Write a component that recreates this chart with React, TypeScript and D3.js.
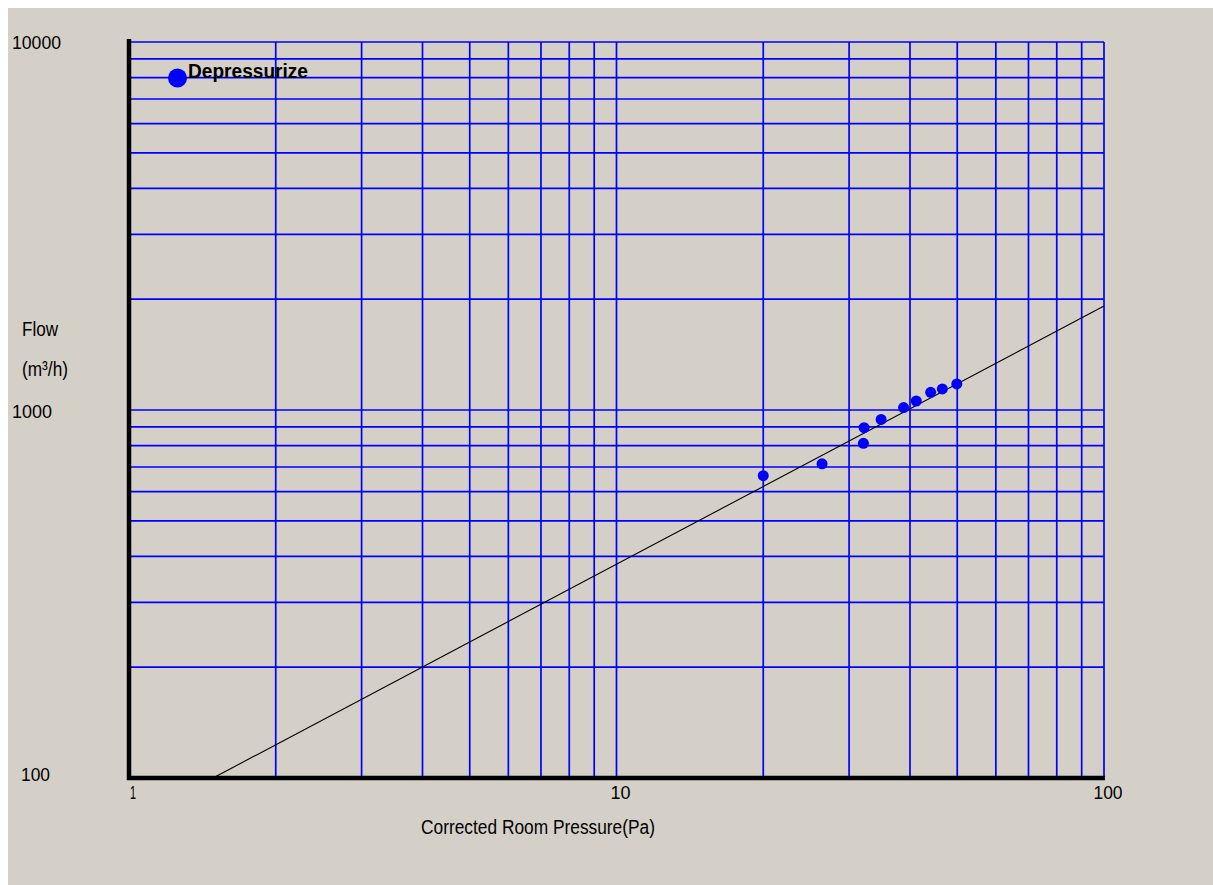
import React from "react";
import * as d3 from "d3";

// ---- data ----
const pressure = [20.0, 26.4, 32.1, 32.2, 34.9, 38.8, 41.2, 44.1, 46.6, 49.9];
const flow = [663, 714, 812, 895, 943, 1015, 1058, 1117, 1141, 1177];
const fitPressure = [1.487, 100];
const fitFlow = [100, 1917];
const xTickValues = [1, 10, 100];
const xTickLabels = ["1", "10", "100"];
const yTickValues = [100, 1000, 10000];
const yTickLabels = ["100", "1000", "10000"];
const seriesName = "Depressurize";
const xTitle = "Corrected Room Pressure(Pa)";
const yTitle1 = "Flow";
const yTitle2 = "(m³/h)";

const W = 1205;
const H = 877;
const BG = "#d4d0c8";
const GRID = "#0000ff";
const POINT = "#0000ff";
const FONT = "'Liberation Sans Narrow', 'Liberation Sans', Arial, sans-serif";

export default function App() {
  const x = d3.scaleLog().domain([1, 100]).range([129, 1104]);
  const y = d3.scaleLog().domain([100, 10000]).range([778, 42]);

  const xGrid: number[] = [];
  for (let d = 1; d <= 10; d *= 10) for (let k = 2; k <= 10; k++) xGrid.push(k * d);
  const yGrid: number[] = [];
  for (let d = 100; d <= 1000; d *= 10) for (let k = 2; k <= 10; k++) yGrid.push(k * d);

  const line = d3
    .line<number>()
    .x((_, i) => x(fitPressure[i]))
    .y((_, i) => y(fitFlow[i]));

  const yLabelX = [21, 12, 12];
  const yLabelW = [29, 40, 49];
  const yLabelDy = [3, 8, 7];
  const xLabelW = [6, 20, 29];
  const [x0, x1] = x.range();
  const [yb, yt] = y.range();

  return (
    <svg
      width={W}
      height={H}
      style={{ position: "absolute", left: 8, top: 8, display: "block" }}
    >
      <rect x={0} y={0} width={W} height={H} fill={BG} />
      <g transform="translate(-8,-8)" fontFamily={FONT} fill="#000">
        {xGrid.map((v) => (
          <line key={"gx" + v} x1={x(v)} x2={x(v)} y1={yt} y2={yb} stroke={GRID} strokeWidth={1.7} />
        ))}
        {yGrid.map((v) => (
          <line key={"gy" + v} x1={x0} x2={x1} y1={y(v)} y2={y(v)} stroke={GRID} strokeWidth={1.7} />
        ))}
        <line x1={x0} x2={x0} y1={yt - 3} y2={yb + 2} stroke="#000" strokeWidth={4.5} />
        <line x1={x0 - 2} x2={x1 + 1} y1={yb} y2={yb} stroke="#000" strokeWidth={4.5} />
        <path d={line(fitPressure) || ""} fill="none" stroke="#000" strokeWidth={1.1} />
        {pressure.map((p, i) => (
          <circle key={"p" + i} cx={x(p)} cy={y(flow[i])} r={5.5} fill={POINT} />
        ))}
        {yTickValues.map((v, i) => (
          <text
            key={"yt" + v}
            x={yLabelX[i]}
            y={y(v) + yLabelDy[i]}
            fontSize={19}
            textLength={yLabelW[i]}
            lengthAdjust="spacingAndGlyphs"
          >
            {yTickLabels[i]}
          </text>
        ))}
        {xTickValues.map((v, i) => (
          <text
            key={"xt" + v}
            x={x(v) + 4 - xLabelW[i] / 2}
            y={799}
            fontSize={19}
            textLength={xLabelW[i]}
            lengthAdjust="spacingAndGlyphs"
          >
            {xTickLabels[i]}
          </text>
        ))}
        <text x={421} y={834} fontSize={20} textLength={234} lengthAdjust="spacingAndGlyphs">
          {xTitle}
        </text>
        <text x={22} y={336} fontSize={20} textLength={36} lengthAdjust="spacingAndGlyphs">
          {yTitle1}
        </text>
        <text x={22} y={376} fontSize={20} textLength={46} lengthAdjust="spacingAndGlyphs">
          {yTitle2}
        </text>
        <circle cx={177.5} cy={78} r={9.5} fill={POINT} />
        <text
          x={188}
          y={78}
          fontSize={20}
          fontWeight="bold"
          textLength={120}
          lengthAdjust="spacingAndGlyphs"
        >
          {seriesName}
        </text>
      </g>
    </svg>
  );
}
